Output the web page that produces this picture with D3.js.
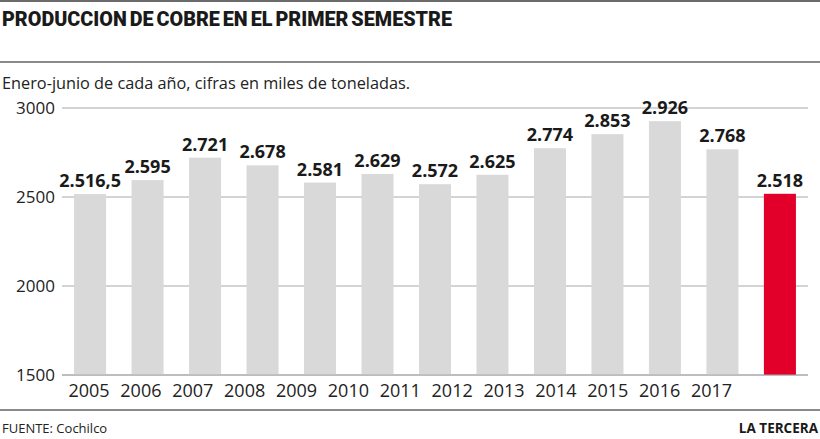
<!DOCTYPE html>
<html>
<head>
<meta charset="utf-8">
<script src="https://cdn.jsdelivr.net/npm/d3@7/dist/d3.min.js"></script>
<style>
  html, body { margin: 0; padding: 0; background: #fff; }
  svg { display: block; }
</style>
</head>
<body>
<div id="chart"></div>
<script>
// ---- data ----
const title = "PRODUCCION DE COBRE EN EL PRIMER SEMESTRE";
const subtitle = "Enero-junio de cada año, cifras en miles de toneladas.";
const source = "FUENTE: Cochilco";
const brand = "LA TERCERA";
const yearLabels = ["2005","2006","2007","2008","2009","2010","2011","2012","2013","2014","2015","2016","2017"];
const barIds = ["b1","b2","b3","b4","b5","b6","b7","b8","b9","b10","b11","b12","b13"];
const values = [2516.5, 2595, 2721, 2678, 2581, 2629, 2572, 2625, 2774, 2853, 2926, 2768, 2518];
const valueLabels = ["2.516,5","2.595","2.721","2.678","2.581","2.629","2.572","2.625","2.774","2.853","2.926","2.768","2.518"];
const highlight = [false,false,false,false,false,false,false,false,false,false,false,false,true];
const yTicks = [1500, 2000, 2500, 3000];

// ---- layout ----
const W = 820, H = 439;
const svg = d3.select("#chart").append("svg").attr("width", W).attr("height", H);

const x = d3.scaleBand().domain(barIds).range([62, 808]).paddingInner(0.443).paddingOuter(0.21);
const xl = d3.scalePoint().domain(yearLabels).range([88.5, 711]);
const y = d3.scaleLinear().domain([1500, 3000]).range([375, 108]);

// rules
svg.append("line").attr("x1", 0).attr("x2", W).attr("y1", 1).attr("y2", 1)
  .attr("stroke", "#6b6b6b").attr("stroke-width", 2);
svg.append("line").attr("x1", 0).attr("x2", W).attr("y1", 62).attr("y2", 62)
  .attr("stroke", "#8a8a8a").attr("stroke-width", 2);
svg.append("line").attr("x1", 0).attr("x2", W).attr("y1", 410).attr("y2", 410)
  .attr("stroke", "#8a8a8a").attr("stroke-width", 2);

// title
svg.append("text").attr("x", 2).attr("y", 25.5)
  .attr("font-family", "Roboto, 'Liberation Sans', sans-serif")
  .attr("font-weight", 900).attr("font-size", 20)
  .attr("textLength", 450).attr("lengthAdjust", "spacingAndGlyphs")
  .attr("fill", "#1a1a1a").style("word-spacing", "-2px")
  .text(title);

// subtitle
svg.append("text").attr("x", 2).attr("y", 89)
  .attr("font-family", "'Open Sans', sans-serif")
  .attr("font-size", 16.5).attr("fill", "#222")
  .attr("textLength", 408).attr("lengthAdjust", "spacingAndGlyphs")
  .text(subtitle);

// gridlines + y axis
const yAxis = d3.axisLeft(y).tickValues(yTicks).tickSize(0).tickPadding(7).tickFormat(d3.format("d"));
const gy = svg.append("g").attr("transform", "translate(62,0)").call(yAxis);
gy.select(".domain").remove();
gy.selectAll(".tick text")
  .attr("font-family", "'Open Sans', sans-serif").attr("font-size", 17).attr("fill", "#222");
svg.append("g").selectAll("line").data(yTicks).join("line")
  .attr("x1", 62).attr("x2", 808)
  .attr("y1", d => y(d)).attr("y2", d => y(d))
  .attr("stroke", "#a8a8a8").attr("stroke-width", 1);

// bars
const data = barIds.map((id, i) => ({ id, v: values[i], lab: valueLabels[i], hi: highlight[i] }));
svg.append("g").selectAll("rect").data(data).join("rect")
  .attr("x", d => x(d.id)).attr("width", x.bandwidth())
  .attr("y", d => y(d.v)).attr("height", d => y(1500) - y(d.v))
  .attr("fill", d => d.hi ? "#e2002b" : "#d9d9d9");

// baseline over bars
svg.append("line").attr("x1", 62).attr("x2", 808).attr("y1", y(1500)).attr("y2", y(1500))
  .attr("stroke", "#a8a8a8").attr("stroke-width", 1);

// value labels
svg.append("g").selectAll("text").data(data).join("text")
  .attr("x", d => x(d.id) + x.bandwidth() / 2)
  .attr("y", d => y(d.v) - 7)
  .attr("text-anchor", "middle")
  .attr("font-family", "'Open Sans', sans-serif").attr("font-weight", 700)
  .attr("font-size", 18).attr("fill", "#1a1a1a")
  .text(d => d.lab);

// x axis labels
const xAxis = d3.axisBottom(xl).tickSize(0).tickPadding(0);
const gx = svg.append("g").attr("transform", "translate(0,384)").call(xAxis);
gx.select(".domain").remove();
gx.selectAll(".tick text")
  .attr("font-family", "'Open Sans', sans-serif").attr("font-size", 18).attr("fill", "#222");

// footer
svg.append("text").attr("x", 2).attr("y", 433)
  .attr("font-family", "'Open Sans', sans-serif").attr("font-size", 13).attr("fill", "#222")
  .text(source);
svg.append("text").attr("x", 818).attr("y", 433).attr("text-anchor", "end")
  .attr("font-family", "'Open Sans', sans-serif").attr("font-weight", 700)
  .attr("font-size", 13.5).attr("fill", "#1a1a1a")
  .text(brand);
</script>
</body>
</html>
